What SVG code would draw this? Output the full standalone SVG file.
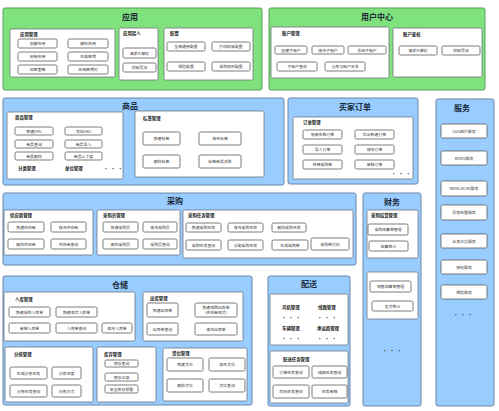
<svg xmlns="http://www.w3.org/2000/svg" width="499" height="411" viewBox="0 0 499 411">
<style>
text{font-family:"Noto Sans CJK SC","Liberation Sans",sans-serif;fill:#222}
.pg{fill:#80e27c;stroke:#5a9e5a;stroke-width:1}
.pb{fill:#99ccff;stroke:#6b87a8;stroke-width:1}
.box{fill:#fff;stroke:#6d7480;stroke-width:0.8}
.btn{fill:#fff;stroke:#5a5a5a;stroke-width:0.8}
.ttl{font-size:8px;font-weight:bold;text-anchor:middle;fill:#1a2a3a}
.lbl{font-size:4.4px;font-weight:bold}
.t{font-size:3.9px;text-anchor:middle;fill:#333}
.dots{font-size:6px;text-anchor:middle;fill:#444}
</style>
<rect width="499" height="411" fill="#fff"/>

<g id="app">
<rect class="pg" x="3" y="8" width="259" height="82" rx="2"/>
<text class="ttl" x="130" y="20">应用</text>
<g id="app-mgmt">
<rect class="box" x="10" y="29" width="105" height="48" rx="1.5"/>
<text class="lbl" x="20" y="36">应用管理</text>
<rect class="btn" x="18" y="39" width="39" height="9" rx="1.5"/><text class="t" x="37.5" y="45">创建应用</text>
<rect class="btn" x="68" y="39" width="40" height="9" rx="1.5"/><text class="t" x="88" y="45">删除应用</text>
<rect class="btn" x="18" y="52" width="39" height="9" rx="1.5"/><text class="t" x="37.5" y="58">启用应用</text>
<rect class="btn" x="68" y="52" width="40" height="9" rx="1.5"/><text class="t" x="88" y="58">生成密钥</text>
<rect class="btn" x="18" y="65" width="39" height="9" rx="1.5"/><text class="t" x="37.5" y="71">加密策略</text>
<rect class="btn" x="68" y="65" width="40" height="9" rx="1.5"/><text class="t" x="88" y="71">应用密钥对</text>
</g>
<g id="app-access">
<rect class="box" x="119" y="28" width="39" height="52" rx="1.5"/>
<text class="lbl" x="123" y="35">应用接入</text>
<rect class="btn" x="123" y="48" width="33" height="10" rx="1.5"/><text class="t" x="139.5" y="54.5">请求头解析</text>
<rect class="btn" x="123" y="63" width="33" height="9" rx="1.5"/><text class="t" x="139.5" y="69">校验凭证</text>
</g>
<g id="app-config">
<rect class="box" x="164" y="28" width="89" height="52" rx="1.5"/>
<text class="lbl" x="170" y="35">配置</text>
<rect class="btn" x="167" y="42" width="38" height="9" rx="1.5"/><text class="t" x="186" y="48">全局通用配置</text>
<rect class="btn" x="212" y="42" width="38" height="9" rx="1.5"/><text class="t" x="231" y="48">打印模板配置</text>
<rect class="btn" x="167" y="62" width="38" height="9" rx="1.5"/><text class="t" x="186" y="68">短信配置</text>
<rect class="btn" x="212" y="62" width="38" height="9" rx="1.5"/><text class="t" x="231" y="68">采购规则配置</text>
</g>
</g>

<g id="user">
<rect class="pg" x="269" y="8" width="216" height="82" rx="2"/>
<text class="ttl" x="377" y="20">用户中心</text>
<g id="user-acct">
<rect class="box" x="271" y="27" width="118" height="51" rx="1.5"/>
<text class="lbl" x="282" y="35">账户管理</text>
<rect class="btn" x="275" y="46" width="32" height="8" rx="1.5"/><text class="t" x="291" y="51.5">创建子账户</text>
<rect class="btn" x="312" y="46" width="32" height="8" rx="1.5"/><text class="t" x="328" y="51.5">修改子账户</text>
<rect class="btn" x="348" y="46" width="38" height="8" rx="1.5"/><text class="t" x="367" y="51.5">冻结子账户</text>
<rect class="btn" x="277" y="62" width="40" height="9" rx="1.5"/><text class="t" x="297" y="68">子账户查询</text>
<rect class="btn" x="325" y="62" width="40" height="9" rx="1.5"/><text class="t" x="345" y="68">仓库与账户关系</text>
</g>
<g id="user-auth">
<rect class="box" x="393" y="28" width="89" height="49" rx="1.5"/>
<text class="lbl" x="403" y="36">账户鉴权</text>
<rect class="btn" x="399" y="46" width="38" height="9" rx="1.5"/><text class="t" x="418" y="52">请求头解析</text>
<rect class="btn" x="442" y="46" width="38" height="9" rx="1.5"/><text class="t" x="461" y="52">校验凭证</text>
</g>
</g>

<g id="goods">
<rect class="pb" x="3" y="98" width="281" height="87" rx="2"/>
<text class="ttl" x="130" y="109">商品</text>
<g id="goods-mgmt">
<rect class="box" x="7" y="112" width="116" height="67" rx="1.5"/>
<text class="lbl" x="15" y="119">商品管理</text>
<rect class="btn" x="15" y="127" width="38" height="8" rx="1.5"/><text class="t" x="34" y="132.5">新建SPU</text>
<rect class="btn" x="65" y="127" width="37" height="8" rx="1.5"/><text class="t" x="83.5" y="132.5">添加SKU</text>
<rect class="btn" x="15" y="140" width="38" height="8" rx="1.5"/><text class="t" x="34" y="145.5">商品查询</text>
<rect class="btn" x="65" y="140" width="37" height="8" rx="1.5"/><text class="t" x="83.5" y="145.5">商品导入</text>
<rect class="btn" x="15" y="152" width="38" height="8" rx="1.5"/><text class="t" x="34" y="157.5">商品删除</text>
<rect class="btn" x="65" y="152" width="37" height="8" rx="1.5"/><text class="t" x="83.5" y="157.5">商品上下架</text>
<text class="lbl" x="18" y="170">分类管理</text>
<text class="lbl" x="65" y="170">单位管理</text>
<text class="dots" x="113" y="171">· · ·</text>
</g>
<g id="goods-tag">
<rect class="box" x="135" y="111" width="129" height="66" rx="1.5"/>
<text class="lbl" x="143" y="120">标签管理</text>
<rect class="btn" x="143" y="132" width="37" height="13" rx="1.5"/><text class="t" x="161.5" y="140">新建标签</text>
<rect class="btn" x="199" y="132" width="42" height="13" rx="1.5"/><text class="t" x="220" y="140">修改标签</text>
<rect class="btn" x="143" y="155" width="37" height="13" rx="1.5"/><text class="t" x="161.5" y="163">删除标签</text>
<rect class="btn" x="199" y="155" width="42" height="13" rx="1.5"/><text class="t" x="220" y="163">标签商品关联</text>
</g>
</g>

<g id="order">
<rect class="pb" x="288" y="98" width="130" height="86" rx="2"/>
<text class="ttl" x="355" y="110">买家订单</text>
<g id="order-mgmt">
<rect class="box" x="293" y="117" width="120" height="62" rx="1.5"/>
<text class="lbl" x="303" y="124">订单管理</text>
<rect class="btn" x="303" y="130" width="39" height="9" rx="1.5"/><text class="t" x="322.5" y="136">电商系统订单</text>
<rect class="btn" x="355" y="130" width="39" height="9" rx="1.5"/><text class="t" x="374.5" y="136">后台新建订单</text>
<rect class="btn" x="303" y="145" width="39" height="9" rx="1.5"/><text class="t" x="322.5" y="151">导入订单</text>
<rect class="btn" x="355" y="145" width="39" height="9" rx="1.5"/><text class="t" x="374.5" y="151">修改订单</text>
<rect class="btn" x="303" y="160" width="39" height="9" rx="1.5"/><text class="t" x="322.5" y="166">转换采购单</text>
<rect class="btn" x="355" y="160" width="39" height="9" rx="1.5"/><text class="t" x="374.5" y="166">审核订单</text>
<text class="dots" x="401" y="176">· · ·</text>
</g>
</g>

<g id="service">
<rect class="pb" x="436" y="99" width="58" height="307" rx="2"/>
<text class="ttl" x="462" y="111">服务</text>
<rect class="btn" x="441" y="124" width="46" height="14" rx="1.5"/><text class="t" x="464" y="132.5">COS图片服务</text>
<rect class="btn" x="441" y="151" width="46" height="14" rx="1.5"/><text class="t" x="464" y="159.5">REDIS服务</text>
<rect class="btn" x="441" y="181" width="46" height="15" rx="1.5"/><text class="t" x="464" y="190">MEMCACHE服务</text>
<rect class="btn" x="441" y="205" width="46" height="15" rx="1.5"/><text class="t" x="464" y="214">异常告警服务</text>
<rect class="btn" x="441" y="234" width="46" height="14" rx="1.5"/><text class="t" x="464" y="242.5">业务日志服务</text>
<rect class="btn" x="441" y="260" width="46" height="14" rx="1.5"/><text class="t" x="464" y="268.5">授权服务</text>
<rect class="btn" x="441" y="285" width="46" height="14" rx="1.5"/><text class="t" x="464" y="293.5">短信服务</text>
<text class="dots" x="463" y="317">· · ·</text>
</g>

<g id="purchase">
<rect class="pb" x="3" y="193" width="353" height="72" rx="2"/>
<text class="ttl" x="175" y="204">采购</text>
<g id="purchase-supplier">
<rect class="box" x="4" y="210" width="89" height="45" rx="1.5"/>
<text class="lbl" x="10" y="217">供应商管理</text>
<rect class="btn" x="8" y="222" width="36" height="10" rx="1.5"/><text class="t" x="26" y="228.5">新建供应商</text>
<rect class="btn" x="51" y="222" width="35" height="10" rx="1.5"/><text class="t" x="68.5" y="228.5">修改供应商</text>
<rect class="btn" x="8" y="239" width="36" height="10" rx="1.5"/><text class="t" x="26" y="245.5">删除供应商</text>
<rect class="btn" x="51" y="239" width="35" height="10" rx="1.5"/><text class="t" x="68.5" y="245.5">供应商查询</text>
</g>
<g id="purchase-buyer">
<rect class="box" x="97" y="210" width="83" height="45" rx="1.5"/>
<text class="lbl" x="103" y="217">采购员管理</text>
<rect class="btn" x="103" y="222" width="35" height="10" rx="1.5"/><text class="t" x="120.5" y="228.5">新建采购员</text>
<rect class="btn" x="143" y="222" width="34" height="10" rx="1.5"/><text class="t" x="160" y="228.5">修改采购员</text>
<rect class="btn" x="103" y="239" width="35" height="10" rx="1.5"/><text class="t" x="120.5" y="245.5">删除采购员</text>
<rect class="btn" x="143" y="239" width="34" height="10" rx="1.5"/><text class="t" x="160" y="245.5">采购员查询</text>
</g>
<g id="purchase-task">
<rect class="box" x="183" y="210" width="170" height="48" rx="1.5"/>
<text class="lbl" x="188" y="217">采购任务管理</text>
<rect class="btn" x="186" y="223" width="35" height="9" rx="1.5"/><text class="t" x="203.5" y="229">新建采购任务</text>
<rect class="btn" x="228" y="223" width="35" height="9" rx="1.5"/><text class="t" x="245.5" y="229">修改采购任务</text>
<rect class="btn" x="272" y="223" width="34" height="9" rx="1.5"/><text class="t" x="289" y="229">删除采购任务</text>
<rect class="btn" x="186" y="240" width="35" height="10" rx="1.5"/><text class="t" x="203.5" y="246.5">采购任务查询</text>
<rect class="btn" x="228" y="240" width="35" height="10" rx="1.5"/><text class="t" x="245.5" y="246.5">分配采购任务</text>
<rect class="btn" x="272" y="240" width="36" height="10" rx="1.5"/><text class="t" x="290" y="246.5">生成采购单</text>
<rect class="btn" x="311" y="238" width="38" height="12" rx="1.5"/><text class="t" x="330" y="245.5">采购单打印</text>
</g>
</g>

<g id="finance">
<rect class="pb" x="363" y="193" width="58" height="213" rx="2"/>
<text class="ttl" x="392" y="205">财务</text>
<g id="finance-purchase">
<rect class="box" x="367" y="210" width="51" height="48" rx="1.5"/>
<text class="lbl" x="371" y="217">采购结算管理</text>
<rect class="btn" x="368" y="224" width="40" height="11" rx="1.5"/><text class="t" x="388" y="231">采购结算单管理</text>
<rect class="btn" x="369" y="241" width="39" height="10" rx="1.5"/><text class="t" x="388.5" y="247.5">结算统计</text>
</g>
<g id="finance-sales">
<rect class="box" x="367" y="272" width="51" height="47" rx="1.5"/>
<rect class="btn" x="370" y="281" width="41" height="11" rx="1.5"/><text class="t" x="390.5" y="288">销售结算单管理</text>
<rect class="btn" x="372" y="301" width="41" height="10" rx="1.5"/><text class="t" x="392.5" y="307.5">发货统计</text>
</g>
<text class="dots" x="392" y="353">· · ·</text>
</g>

<g id="warehouse">
<rect class="pb" x="3" y="276" width="249" height="129" rx="2"/>
<text class="ttl" x="120" y="288">仓储</text>
<g id="wh-in">
<rect class="box" x="4" y="292" width="131" height="49" rx="1.5"/>
<text class="lbl" x="15" y="301">入库管理</text>
<rect class="btn" x="9" y="307" width="41" height="10" rx="1.5"/><text class="t" x="29.5" y="313.5">新建采购入库单</text>
<rect class="btn" x="56" y="307" width="41" height="10" rx="1.5"/><text class="t" x="76.5" y="313.5">新建退货入库单</text>
<rect class="btn" x="9" y="323" width="41" height="10" rx="1.5"/><text class="t" x="29.5" y="329.5">审核入库单</text>
<rect class="btn" x="56" y="323" width="41" height="10" rx="1.5"/><text class="t" x="76.5" y="329.5">入库单查询</text>
<rect class="btn" x="102" y="323" width="30" height="10" rx="1.5"/><text class="t" x="117" y="329.5">修改入库单</text>
</g>
<g id="wh-out">
<rect class="box" x="143" y="292" width="100" height="49" rx="1.5"/>
<text class="lbl" x="150" y="300">出库管理</text>
<rect class="btn" x="147" y="303" width="31" height="14" rx="1.5"/><text class="t" x="162.5" y="311.5">新建出库单</text>
<rect class="btn" x="195" y="303" width="42" height="14" rx="1.5"/><text class="t" x="216" y="309">新建退回出库单</text><text class="t" x="216" y="314">（供应商退货）</text>
<rect class="btn" x="147" y="323" width="31" height="12" rx="1.5"/><text class="t" x="162.5" y="330.5">出库单查询</text>
<rect class="btn" x="195" y="323" width="42" height="12" rx="1.5"/><text class="t" x="216" y="330.5">修改出库单</text>
</g>
<g id="wh-pick">
<rect class="box" x="5" y="347" width="88" height="55" rx="1.5"/>
<text class="lbl" x="14" y="356">分拣管理</text>
<rect class="btn" x="10" y="367" width="37" height="12" rx="1.5"/><text class="t" x="28.5" y="374.5">生成分拣任务</text>
<rect class="btn" x="52" y="367" width="29" height="12" rx="1.5"/><text class="t" x="66.5" y="374.5">分拣进度</text>
<rect class="btn" x="10" y="385" width="37" height="12" rx="1.5"/><text class="t" x="28.5" y="392.5">分拣任务查询</text>
<rect class="btn" x="52" y="385" width="29" height="12" rx="1.5"/><text class="t" x="66.5" y="392.5">分拣方式</text>
</g>
<g id="wh-stock">
<rect class="box" x="97" y="347" width="59" height="55" rx="1.5"/>
<text class="lbl" x="104" y="356">库存管理</text>
<rect class="btn" x="105" y="360" width="33" height="7" rx="1.5"/><text class="t" x="121.5" y="365">库存查询</text>
<rect class="btn" x="105" y="373" width="33" height="8" rx="1.5"/><text class="t" x="121.5" y="378.5">库存记录</text>
<rect class="btn" x="105" y="385" width="33" height="8" rx="1.5"/><text class="t" x="121.5" y="390.5">安全库存预警</text>
</g>
<g id="wh-loc">
<rect class="box" x="163" y="348" width="84" height="53" rx="1.5"/>
<text class="lbl" x="172" y="355">货位管理</text>
<rect class="btn" x="167" y="358" width="36" height="13" rx="1.5"/><text class="t" x="185" y="366">新建货位</text>
<rect class="btn" x="209" y="358" width="36" height="13" rx="1.5"/><text class="t" x="227" y="366">修改货位</text>
<rect class="btn" x="167" y="379" width="36" height="13" rx="1.5"/><text class="t" x="185" y="387">删除货位</text>
<rect class="btn" x="209" y="379" width="36" height="13" rx="1.5"/><text class="t" x="227" y="387">货位查询</text>
</g>
</g>

<g id="delivery">
<rect class="pb" x="268" y="276" width="82" height="130" rx="2"/>
<text class="ttl" x="309" y="287">配送</text>
<g id="delivery-base">
<rect class="box" x="270" y="294" width="78" height="51" rx="1.5"/>
<text class="lbl" x="282" y="309">司机管理</text>
<text class="lbl" x="318" y="309">线路管理</text>
<text class="dots" x="291" y="320">· · ·</text>
<text class="dots" x="327" y="320">· · ·</text>
<text class="lbl" x="282" y="330">车辆管理</text>
<text class="lbl" x="317" y="330">承运商管理</text>
<text class="dots" x="291" y="341">· · ·</text>
<text class="dots" x="327" y="341">· · ·</text>
</g>
<g id="delivery-task">
<rect class="box" x="270" y="351" width="78" height="52" rx="1.5"/>
<text class="lbl" x="283" y="361">配送任务管理</text>
<rect class="btn" x="273" y="366" width="36" height="12" rx="1.5"/><text class="t" x="291" y="373.5">订单任务查询</text>
<rect class="btn" x="312" y="366" width="35" height="12" rx="1.5"/><text class="t" x="329.5" y="373.5">线路任务查询</text>
<rect class="btn" x="273" y="385" width="36" height="13" rx="1.5"/><text class="t" x="291" y="393">司机任务查询</text>
<rect class="btn" x="312" y="385" width="35" height="13" rx="1.5"/><text class="t" x="329.5" y="393">任务审核</text>
</g>
</g>
</svg>
